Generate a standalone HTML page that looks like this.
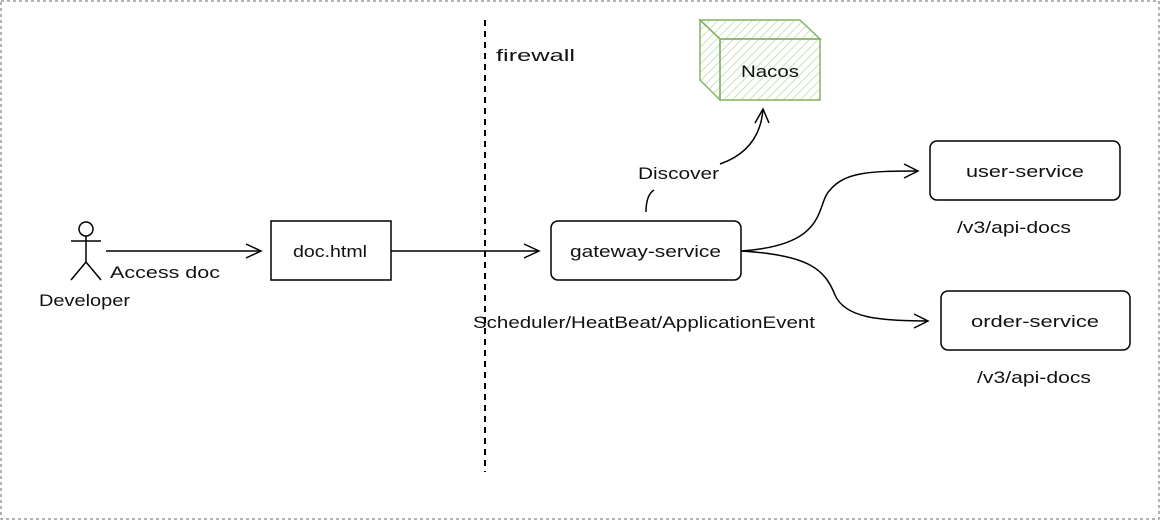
<!DOCTYPE html>
<html><head><meta charset="utf-8"><style>
html,body{margin:0;padding:0;background:#fff;width:1161px;height:521px;overflow:hidden}
svg{display:block}
text{font-family:"Liberation Sans",sans-serif;font-size:17px;fill:#111}
</style></head><body>
<svg width="1161" height="521" viewBox="0 0 1161 521">
<defs>
<pattern id="h" width="6" height="6" patternUnits="userSpaceOnUse" patternTransform="rotate(45)">
<line x1="0" y1="0" x2="0" y2="6" stroke="#b9dca6" stroke-width="1.5"/></pattern>
</defs>
<rect x="1" y="1" width="1158" height="518" fill="none" stroke="#666" stroke-dasharray="3,3"/>
<line x1="485" y1="20" x2="485" y2="472" stroke="#000" stroke-width="2" stroke-dasharray="6,5"/>
<text x="496" y="61" textLength="79" lengthAdjust="spacingAndGlyphs">firewall</text>
<g stroke="#82b366" stroke-width="1.5" fill="url(#h)">
<polygon points="700,20 800,20 820,39 720,39"/>
<polygon points="700,20 720,39 720,100 700,80"/>
<rect x="720" y="39" width="100" height="61"/>
</g>
<text x="741" y="77" textLength="58" lengthAdjust="spacingAndGlyphs">Nacos</text>
<g stroke="#000" stroke-width="1.5" fill="none">
<circle cx="86" cy="229" r="7"/>
<line x1="86" y1="236" x2="86" y2="262"/>
<line x1="71" y1="241" x2="101" y2="241"/>
<line x1="86" y1="262" x2="71" y2="280"/>
<line x1="86" y1="262" x2="101" y2="280"/>
<line x1="106" y1="251" x2="260" y2="251"/>
<polyline points="246,244 261,251 246,258"/>
<rect x="271" y="221" width="120" height="59"/>
<line x1="391" y1="251" x2="538" y2="251"/>
<polyline points="524,244 539,251 524,258"/>
<rect x="551" y="221" width="190" height="59" rx="7"/>
<path d="M646 212 Q646 195 654 190"/>
<path d="M720 164 Q760 150 763 109"/>
<polyline points="755,123 763,109 769,123"/>
<path d="M741 251 C830 245 815 205 830 190 C845 172 870 171 918 171"/>
<polyline points="904,164 918,171 904,178"/>
<path d="M741 251 C810 255 825 270 835 295 C845 318 880 321 928 321"/>
<polyline points="914,314 928,321 914,328"/>
<rect x="930" y="141" width="190" height="59" rx="7"/>
<rect x="941" y="291" width="189" height="59" rx="7"/>
</g>
<text x="110" y="278" textLength="110" lengthAdjust="spacingAndGlyphs">Access doc</text>
<text x="39" y="306" textLength="91" lengthAdjust="spacingAndGlyphs">Developer</text>
<text x="293" y="257" textLength="74" lengthAdjust="spacingAndGlyphs">doc.html</text>
<text x="570" y="257" textLength="151" lengthAdjust="spacingAndGlyphs">gateway-service</text>
<text x="638" y="179" textLength="81" lengthAdjust="spacingAndGlyphs">Discover</text>
<text x="473" y="328" textLength="342" lengthAdjust="spacingAndGlyphs">Scheduler/HeatBeat/ApplicationEvent</text>
<text x="966" y="177" textLength="118" lengthAdjust="spacingAndGlyphs">user-service</text>
<text x="957" y="233" textLength="114" lengthAdjust="spacingAndGlyphs">/v3/api-docs</text>
<text x="971" y="327" textLength="128" lengthAdjust="spacingAndGlyphs">order-service</text>
<text x="977" y="383" textLength="114" lengthAdjust="spacingAndGlyphs">/v3/api-docs</text>
</svg>
</body></html>
